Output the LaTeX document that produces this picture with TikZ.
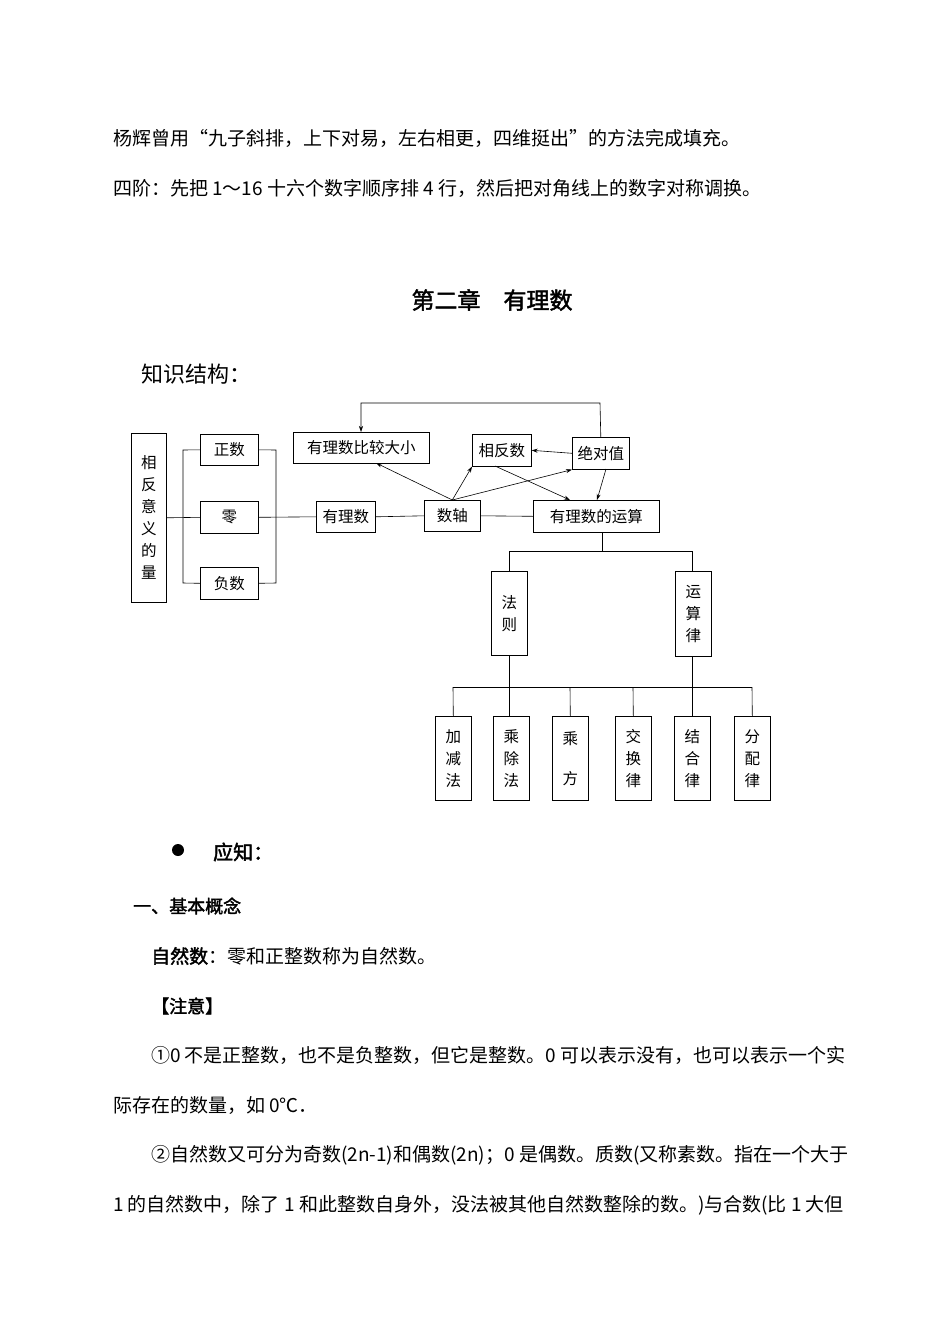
\documentclass[tikz,border=0pt]{standalone}
\usepackage{fontspec}
\setmainfont{Noto Sans CJK SC}
\newfontfamily\cjkb{Noto Sans CJK SC}[BoldFont=*,AutoFakeBold=2]
\usetikzlibrary{arrows.meta}
\begin{document}
\begin{tikzpicture}[x=1pt,y=-1pt,
  bx/.style={draw,semithick,inner sep=0pt,anchor=north west,font=\fontsize{15.5}{22}\selectfont},
  ln/.style={semithick},
  ar/.style={semithick,-{Stealth[length=6pt,width=4pt]}},
  tx/.style={anchor=west,inner sep=0pt,font=\fontsize{19}{21}\selectfont}]
\useasboundingbox (0,0) rectangle (950,1344);
\fill[white] (0,0) rectangle (950,1344);
\def\bxx#1#2#3#4#5#6{\node[bx,minimum width=#4-#2,minimum height=#5-#3,align=center] (#1) at (#2,#3) {#6};}
\node[tx] at (113,138) {杨辉曾用“九子斜排，上下对易，左右相更，四维挺出”的方法完成填充。};
\node[tx] at (113,188) {四阶：先把 1～16 十六个数字顺序排 4 行，然后把对角线上的数字对称调换。};
\node[tx,anchor=center,font=\fontsize{23}{26}\selectfont\cjkb\bfseries] at (492,300) {第二章\quad 有理数};
\node[tx,font=\fontsize{22}{24}\selectfont] at (141,374) {知识结构：};
% boxes
\bxx{q}{131}{433}{166}{602}{相\\反\\意\\义\\的\\量}
\bxx{zs}{200}{434}{258}{465}{正数}
\bxx{ling}{200}{501}{258}{533}{零}
\bxx{fs}{200}{567}{258}{599}{负数}
\bxx{yls}{316}{501}{375}{532}{有理数}
\bxx{sz}{424}{500}{480}{531}{数轴}
\bxx{ys}{533}{500}{659}{532}{有理数的运算}
\bxx{bj}{293}{432}{429}{463}{有理数比较大小}
\bxx{xf}{472}{434}{531}{466}{相反数}
\bxx{jd}{572}{437}{629}{469}{绝对值}
\bxx{fz}{491}{571}{527}{655}{法\\则}
\bxx{ysl}{675}{571}{711}{656}{运\\算\\律}
\bxx{b1}{435}{716}{471}{800}{加\\减\\法}
\bxx{b2}{493}{716}{529}{800}{乘\\除\\法}
\bxx{b3}{552}{716}{588}{800}{乘\\[18pt]方}
\bxx{b4}{615}{716}{651}{800}{交\\换\\律}
\bxx{b5}{674}{716}{710}{800}{结\\合\\律}
\bxx{b6}{734}{716}{770}{800}{分\\配\\律}
% brackets
\draw[ln] (q.east) -- (ling.west);
\draw[ln] (zs.west) -- (183,450) -- (183,583) -- (fs.west);
\draw[ln] (zs.east) -- (276,450) -- (276,583) -- (fs.east);
\draw[ln] (ling.east) -- (yls.west);
\draw[ln] (yls.east) -- (sz.west);
\draw[ln] (sz.east) -- (ys.west);
% arrows
\draw[ar] (sz.north) -- (376,463);
\draw[ar] (sz.north) -- (xf.south west);
\draw[ar] (sz.north) -- (jd.south west);
\draw[ar] (495,466) -- (570,500);
\draw[ar] (606,469) -- (597,500);
\draw[ar] (jd.west) -- (xf.east);
\draw[ar] (jd.north) -- (600,403) -- (361,403) -- (bj.north -| 361,0);
% tree
\coordinate (t1) at (602,551);
\draw[ln] (ys.south -| t1) -- (t1);
\draw[ln] (509,551) -- (692,551);
\draw[ln] (509,551) -- (509,571);
\draw[ln] (692,551) -- (692,571);
\draw[ln] (453,687) -- (752,687);
\draw[ln] (509,655) -- (509,716);
\draw[ln] (692,656) -- (692,716);
\foreach \b/\x in {b1/453,b3/570,b4/633,b6/752} \draw[ln] (\x,687) -- (\b.north);
% lower text
\fill (178,850) circle (6);
\node[tx,font=\fontsize{20}{22}\selectfont\cjkb\bfseries] at (213,852) {应知：};
\node[tx,font=\fontsize{18}{20}\selectfont\cjkb\bfseries] at (133,906) {一、基本概念};
\node[tx] at (151,956) {{\cjkb\bfseries 自然数}：零和正整数称为自然数。};
\node[tx,font=\fontsize{18}{20}\selectfont\cjkb\bfseries] at (151,1006) {【注意】};
\node[tx] at (151,1055) {①0 不是正整数，也不是负整数，但它是整数。0 可以表示没有，也可以表示一个实};
\node[tx] at (113,1105) {际存在的数量，如 0℃．};
\node[tx] at (151,1155) {②自然数又可分为奇数(2n-1)和偶数(2n)；0 是偶数。质数(又称素数。指在一个大于};
\node[tx] at (113,1205) {1 的自然数中，除了 1 和此整数自身外，没法被其他自然数整除的数。)与合数(比 1 大但};
\end{tikzpicture}
\end{document}
